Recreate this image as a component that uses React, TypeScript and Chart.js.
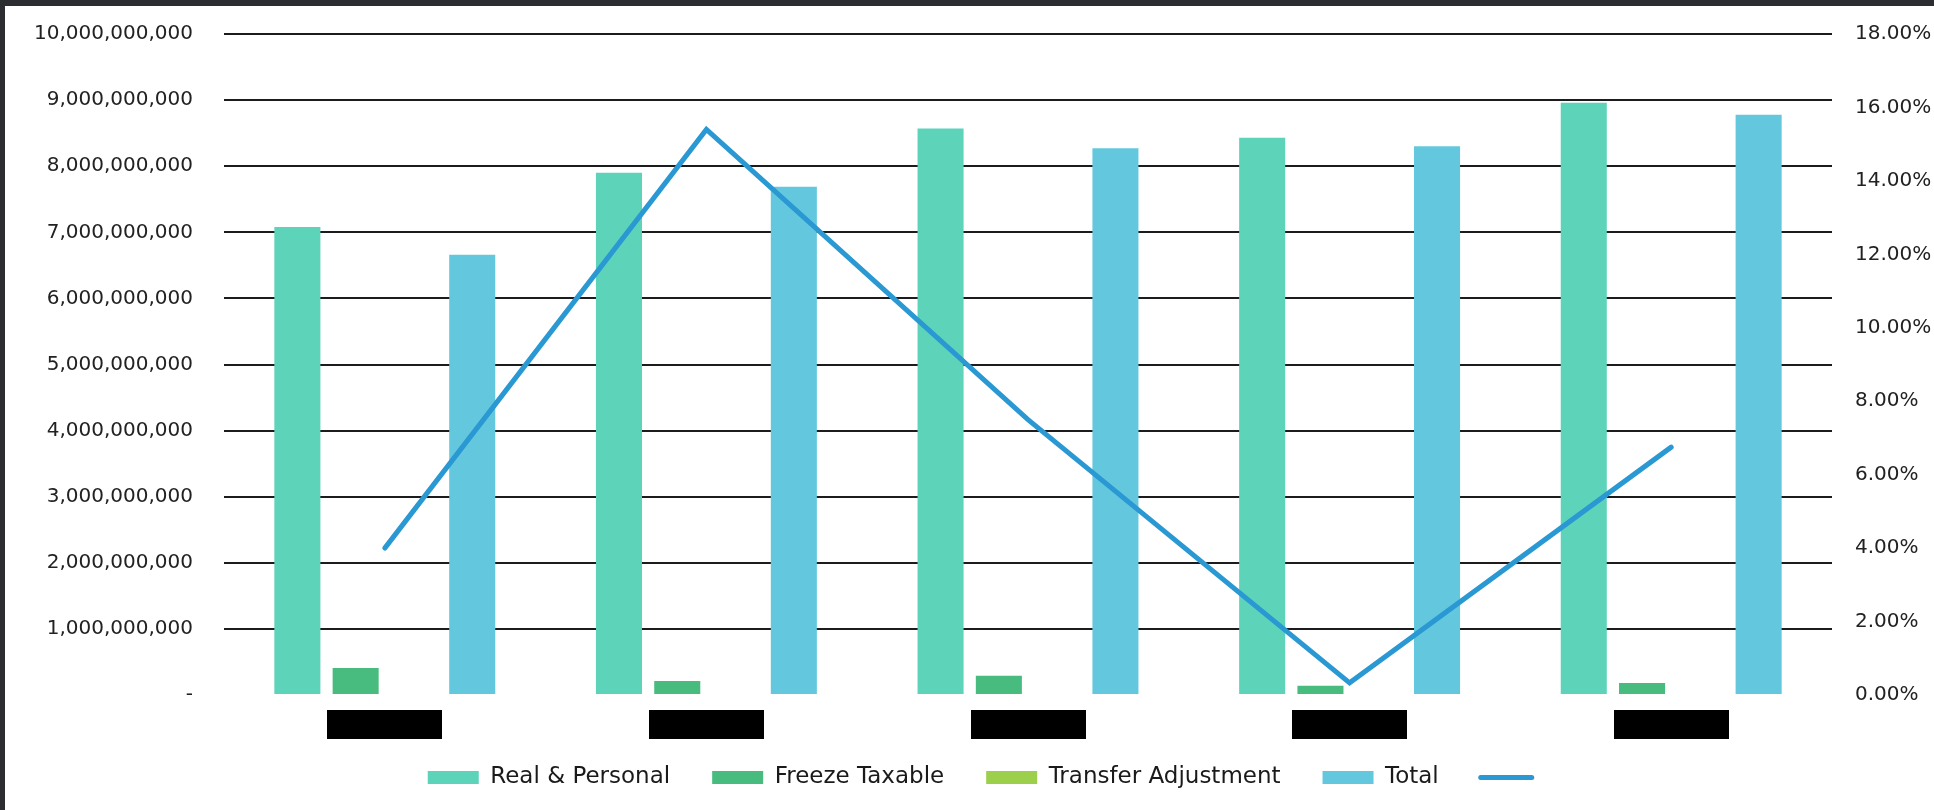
import React, { useEffect, useRef } from "react";
import { Chart, registerables } from "chart.js";

Chart.register(...registerables);

const categories = ["Year 1", "Year 2", "Year 3", "Year 4", "Year 5"];
const realPersonal = [7.08e9, 7.9e9, 8.57e9, 8.43e9, 8.96e9];
const freezeTaxable = [0.41e9, 0.21e9, 0.29e9, 0.14e9, 0.18e9];
const transferAdjustment = [0, 0, 0, 0, 0];
const total = [6.66e9, 7.69e9, 8.27e9, 8.3e9, 8.78e9];
const growthPct = [4.0, 15.4, 7.5, 0.33, 6.75];

const seriesNames = ["Real & Personal", "Freeze Taxable", "Transfer Adjustment", "Total", ""];
const seriesColors = ["#5dd3b9", "#48bc7f", "#9ccf4c", "#63c8de", "#2a98d2"];

const FONT = "'DejaVu Sans', 'Liberation Sans', sans-serif";

const redactPlugin = {
  id: "redactLabels",
  afterLayout(chart: any) {
    if (chart.legend) {
      chart.legend.left += 16;
      chart.legend.right += 16;
    }
  },
  afterDraw(chart: any) {
    const x = chart.scales.x;
    const ctx = chart.ctx;
    ctx.save();
    ctx.fillStyle = "#000000";
    for (let i = 0; i < categories.length; i++) {
      const cx = x.getPixelForTick(i);
      ctx.fillRect(Math.round(cx - 57.5), chart.chartArea.bottom + 15, 115, 29);
    }
    ctx.restore();
  },
};

export default function App() {
  const ref = useRef<HTMLCanvasElement | null>(null);

  useEffect(() => {
    if (!ref.current) return;
    const barCommon = {
      type: "bar" as const,
      yAxisID: "y",
      borderWidth: 0,
      categoryPercentage: 0.725,
      barPercentage: 0.79,
      order: 1,
    };
    const chart = new Chart(ref.current, {
      data: {
        labels: categories,
        datasets: [
          { ...barCommon, label: seriesNames[0], data: realPersonal, backgroundColor: seriesColors[0] },
          { ...barCommon, label: seriesNames[1], data: freezeTaxable, backgroundColor: seriesColors[1] },
          { ...barCommon, label: seriesNames[2], data: transferAdjustment, backgroundColor: seriesColors[2] },
          { ...barCommon, label: seriesNames[3], data: total, backgroundColor: seriesColors[3] },
          {
            type: "line" as const,
            label: seriesNames[4],
            data: growthPct,
            yAxisID: "y1",
            borderColor: seriesColors[4],
            backgroundColor: seriesColors[4],
            borderWidth: 5,
            borderCapStyle: "round",
            borderJoinStyle: "miter",
            pointRadius: 0,
            tension: 0,
            order: 0,
          } as any,
        ],
      },
      options: {
        animation: false,
        responsive: false,
        maintainAspectRatio: false,
        layout: { padding: { left: 0, right: 0, top: 28, bottom: 11 } },
        plugins: {
          tooltip: { enabled: false },
          legend: {
            position: "bottom",
            labels: {
              usePointStyle: true,
              pointStyleWidth: 51,
              boxHeight: 13,
              padding: 42,
              color: "#1a1a1a",
              font: { family: FONT, size: 23 },
              sort: (a: any, b: any) => a.datasetIndex - b.datasetIndex,
              generateLabels: (chart: any) => {
                const items = Chart.defaults.plugins.legend.labels.generateLabels(chart);
                items.forEach((it: any) => {
                  if (it.datasetIndex === 4) {
                    it.pointStyle = "line";
                    it.lineWidth = 5;
                    it.lineCap = "round";
                    it.strokeStyle = seriesColors[4];
                  } else {
                    it.pointStyle = "rect";
                    it.lineWidth = 0;
                  }
                });
                return items;
              },
            },
          },
        },
        scales: {
          x: {
            grid: { display: false, drawTicks: false },
            border: { display: false },
            ticks: { display: false },
            afterFit: (s: any) => {
              s.height = 29;
            },
          },
          y: {
            position: "left",
            min: 0,
            max: 10e9,
            border: { display: false },
            grid: {
              drawTicks: false,
              lineWidth: 2,
              color: (c: any) => (c.tick && c.tick.value === 0 ? "rgba(0,0,0,0)" : "#1c1c1c"),
            },
            ticks: {
              stepSize: 1e9,
              padding: 31,
              color: "#222222",
              font: { family: FONT, size: 20 },
              callback: (v: any) => (Number(v) === 0 ? "-" : Number(v).toLocaleString("en-US")),
            },
            afterFit: (s: any) => {
              s.width = 219;
              s.paddingTop = 0;
              s.paddingBottom = 0;
            },
          },
          y1: {
            position: "right",
            min: 0,
            max: 18,
            border: { display: false },
            grid: { display: false, drawTicks: false },
            ticks: {
              stepSize: 2,
              padding: 23,
              color: "#222222",
              font: { family: FONT, size: 20 },
              callback: (v: any) => Number(v).toFixed(2) + "%",
            },
            afterFit: (s: any) => {
              s.width = 102;
              s.paddingTop = 0;
              s.paddingBottom = 0;
            },
          },
        },
      },
      plugins: [redactPlugin],
    } as any);
    return () => chart.destroy();
  }, []);

  return (
    <div
      style={{
        position: "fixed",
        left: 0,
        top: 0,
        width: 1934,
        height: 810,
        background: "#2b2d31",
        overflow: "hidden",
      }}
    >
      <div
        style={{
          position: "absolute",
          left: 5,
          top: 6,
          width: 1929,
          height: 804,
          background: "#ffffff",
        }}
      >
        <canvas ref={ref} width={1929} height={804} style={{ display: "block", width: 1929, height: 804 }} />
      </div>
    </div>
  );
}
